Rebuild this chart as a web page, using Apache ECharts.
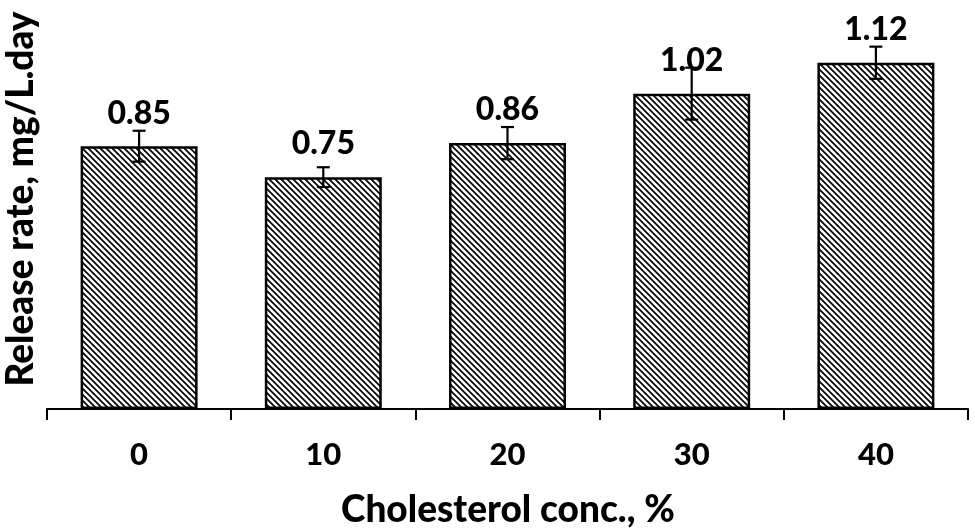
<!DOCTYPE html>
<html>
<head>
<meta charset="utf-8">
<script src="https://cdn.jsdelivr.net/npm/echarts@6/dist/echarts.min.js"></script>
<style>html,body{margin:0;padding:0;background:#fff}#c{width:975px;height:530px}</style>
</head>
<body>
<div id="c"></div>
<script>
const categories = ['0', '10', '20', '30', '40'];
const releaseRate = [0.85, 0.75, 0.86, 1.02, 1.12];
const errorSize = [0.05, 0.032, 0.052, 0.084, 0.052];
const yTitle = 'Release rate, mg/L.day';
const xTitle = 'Cholesterol conc., %';

function hatch() {
  const c = document.createElement('canvas');
  c.width = 6; c.height = 6;
  const g = c.getContext('2d');
  g.fillStyle = '#fff'; g.fillRect(0, 0, 6, 6);
  g.strokeStyle = '#000'; g.lineWidth = 1.7;
  g.beginPath();
  g.moveTo(-1, -1); g.lineTo(7, 7);
  g.moveTo(-4, 2); g.lineTo(2, 8);
  g.moveTo(2, -4); g.lineTo(8, 2);
  g.stroke();
  return c;
}

const FONT = 'Lato';
const chart = echarts.init(document.getElementById('c'));
chart.setOption({
  animation: false,
  backgroundColor: '#fff',
  grid: { left: 47, right: 7, top: 38, bottom: 121 },
  xAxis: {
    type: 'category',
    data: categories,
    axisLine: { lineStyle: { color: '#000', width: 2 } },
    axisTick: { show: true, length: 11, lineStyle: { color: '#000', width: 2 } },
    axisLabel: { color: '#000', fontFamily: FONT, fontWeight: 900, fontSize: 31, margin: 30 }
  },
  yAxis: {
    type: 'value', min: 0, max: 1.2, show: false
  },
  graphic: [
    { type: 'text', left: 341, top: 492,
      style: { text: xTitle, fill: '#000', font: '900 37px Lato' } },
    { type: 'text', x: 3, y: 199, rotation: Math.PI / 2,
      style: { text: yTitle, fill: '#000', font: '900 37px Lato', align: 'center', verticalAlign: 'top' } }
  ],
  series: [
    {
      type: 'bar',
      data: releaseRate,
      barWidth: '63.5%',
      itemStyle: { color: { image: hatch(), repeat: 'repeat' }, borderColor: '#000', borderWidth: 2.5 },
      label: { show: true, position: 'top', distance: 17, color: '#000', fontFamily: FONT, fontWeight: 900, fontSize: 32,
        formatter: p => p.value.toFixed(2) }
    },
    {
      type: 'custom',
      z: 10,
      data: releaseRate.map((v, i) => [i, v, errorSize[i]]),
      renderItem: function (params, api) {
        const x = api.value(0), v = api.value(1), e = api.value(2);
        const hi = api.coord([x, v + e]);
        const lo = api.coord([x, v - e]);
        const w = 6.5;
        const st = { stroke: '#000', lineWidth: 2.2 };
        return { type: 'group', children: [
          { type: 'line', shape: { x1: hi[0], y1: hi[1], x2: lo[0], y2: lo[1] }, style: st },
          { type: 'line', shape: { x1: hi[0] - w, y1: hi[1], x2: hi[0] + w, y2: hi[1] }, style: st },
          { type: 'line', shape: { x1: lo[0] - w, y1: lo[1], x2: lo[0] + w, y2: lo[1] }, style: st }
        ] };
      }
    }
  ]
});
</script>
</body>
</html>
